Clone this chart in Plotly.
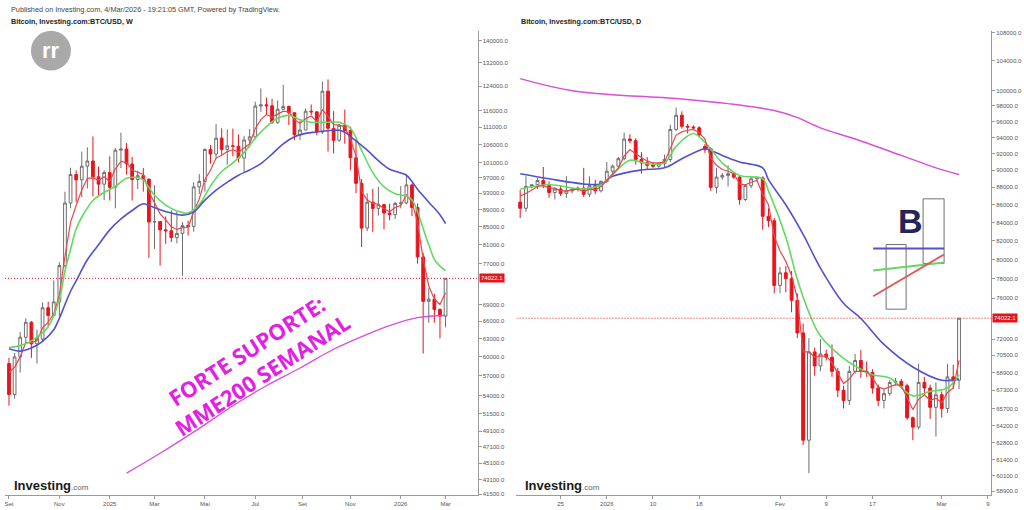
import math
import pandas as pd
import plotly.graph_objects as go

W, H = 1024, 510
PRICE = 74022.1

# ---------------- weekly BTC/USD (left panel) ----------------
w_dates = pd.date_range("2024-09-01", periods=79, freq="7D")
w_open = [58900, 54200, 59950, 63200, 65800, 62100, 62900, 68400, 67000, 69500,
          76600, 90600, 97800, 96400, 100000, 101400, 97200, 95300, 98300, 94500,
          104400, 104700, 100600, 96500, 97500, 96600, 86100, 86200, 84300, 84100,
          82600, 83500, 85300, 85100, 94600, 96000, 104600, 103300, 107800, 104600,
          105600, 105500, 102200, 107300, 108200, 117500, 117900, 117600, 112500, 116500,
          117400, 115400, 108800, 110200, 115900, 115700, 109600, 122300, 110700, 107200,
          111600, 110000, 102300, 95500, 84700, 90800, 89300, 90200, 88200, 87800,
          90500, 90600, 95100, 89500, 78400, 69600, 70000, 68100, 66900]
w_high = [59800, 60600, 64100, 66500, 66000, 64500, 69400, 69500, 73600, 77300,
          93400, 99600, 98900, 104000, 105200, 108300, 99900, 98900, 102700, 105000,
          109400, 106400, 102500, 98800, 99500, 96700, 95000, 86300, 87400, 88800,
          88500, 86100, 86400, 95800, 97900, 104900, 105800, 112000, 110700, 110400,
          110600, 108900, 108500, 110500, 118900, 123200, 120200, 119800, 119300, 124400,
          117600, 115600, 113000, 116800, 118000, 115800, 125500, 126200, 115900, 112000,
          116400, 111200, 107500, 96600, 93000, 94100, 94600, 90400, 90400, 90900,
          94800, 97900, 95500, 90500, 79300, 72100, 71000, 68300, 74022.1]
w_low = [52600, 53600, 57500, 62400, 59800, 58900, 62400, 65100, 66800, 66800,
         76200, 89300, 90800, 92000, 94200, 92200, 92500, 91300, 91200, 89300,
         99500, 97800, 91200, 94100, 93400, 78200, 80100, 76600, 81200, 81600,
         81300, 74500, 83000, 83900, 92800, 93400, 100700, 102000, 103100, 100400,
         102700, 101000, 98200, 105200, 107500, 115700, 114700, 112000, 112000, 116400,
         111700, 107300, 107300, 110200, 114700, 108600, 109100, 104000, 103500, 106800,
         106200, 98900, 93000, 80500, 84000, 83800, 87600, 84400, 86500, 86800,
         89300, 90300, 87500, 77000, 60500, 65700, 65700, 63000, 64900]
w_close = [54200, 59950, 63200, 65800, 62100, 62900, 68400, 67000, 69500, 76600,
           90600, 97800, 96400, 100000, 101400, 97200, 95300, 98300, 94500, 104400,
           104700, 100600, 96500, 97500, 96600, 86100, 86200, 84300, 84100, 82600,
           83500, 85300, 85100, 94600, 96000, 104600, 103300, 107800, 104600, 105600,
           105500, 102200, 107300, 108200, 117500, 117900, 117600, 112500, 116500, 117400,
           115400, 108800, 110200, 115900, 115700, 109600, 122300, 110700, 107200, 111600,
           110000, 102300, 95500, 84700, 90800, 89300, 90200, 88200, 87800, 90500,
           90600, 95100, 89500, 78400, 69600, 70000, 68100, 66900, 74022.1]
# short moving average (red), read per week
w_ma_red = [57500, 58300, 60000, 62300, 62300, 62600, 64800, 65800, 67300, 70800,
            78500, 86000, 90000, 93800, 96800, 96900, 96300, 97200, 96000, 99300,
            101300, 101000, 99000, 98500, 97800, 93400, 90500, 88000, 86600, 85000,
            84400, 84800, 84900, 88500, 91600, 96500, 98900, 102200, 103000, 104000,
            104500, 103800, 105000, 106200, 110600, 113300, 114900, 114100, 115000, 115900,
            115700, 113300, 112200, 113600, 114400, 112700, 116300, 114300, 111800, 111700,
            111100, 107500, 102800, 93500, 91300, 90500, 90300, 89200, 88500, 89500,
            90000, 92600, 90800, 86000, 78000, 72500, 70000, 69000, 71200]
# medium MA (green): week index -> value
w_ma_green_i = [0, 2, 4, 7, 9, 10, 11, 12, 13, 15, 17, 19, 21, 23, 24, 25, 26, 28, 30, 32,
                34, 36, 38, 40, 42, 44, 46, 48, 50, 52, 54, 57, 59, 61, 63, 65, 67, 69, 71, 72,
                73, 74, 75, 76, 77, 78]
w_ma_green = [61500, 61800, 62600, 65000, 70000, 75500, 80000, 84500, 87200, 91200,
              93200, 94700, 96800, 97000, 96400, 94500, 92500, 90100, 88700, 88200,
              90200, 94800, 98600, 100900, 103700, 107800, 111200, 113700, 114600, 113300,
              112500, 112500, 112500, 110700, 104300, 98300, 94600, 92900, 92300, 91400,
              88500, 84600, 81000, 77900, 76500, 75600]
# long MA (blue)
w_ma_blue_i = [0, 2, 4, 6, 8, 9, 10, 11, 12, 14, 16, 18, 20, 22, 24, 25, 27, 29, 31, 33,
               35, 37, 39, 41, 43, 45, 47, 49, 51, 53, 55, 57, 59, 60, 62, 64, 66, 68, 70, 71,
               72, 73, 75, 77, 78]
w_ma_blue = [61300, 60900, 61400, 62500, 64500, 66500, 69000, 71500, 73500, 77800,
             81000, 84300, 86800, 88800, 90400, 90000, 89000, 88200, 87700, 88400,
             91300, 93800, 95800, 97600, 99000, 100700, 103300, 106200, 108200, 109200,
             109600, 110000, 110100, 109500, 107000, 104400, 101500, 99200, 98200, 97600,
             96000, 94000, 90800, 87800, 85700]
# MME200 weekly (magenta)
w_ma200_i = [21, 27, 34, 40, 46, 52, 58, 63, 68, 73, 78]
w_ma200 = [43900, 46300, 49500, 52600, 55500, 58200, 61200, 63300, 65200, 66600, 67000]

# ---------------- daily BTC/USD (right panel) ----------------
d_dates = pd.date_range("2025-12-18", periods=77, freq="D")
d_ohlc = [
    (86300, 87700, 84500, 85600), (85600, 89300, 85200, 88100), (88100, 88400, 87900, 88300),
    (88300, 89100, 87800, 88800), (88800, 90400, 87900, 88300), (88300, 88700, 86800, 87400),
    (87400, 88000, 86600, 87800), (87800, 88200, 87000, 87300), (87300, 89300, 86800, 87600),
    (87600, 88000, 87300, 87800), (87800, 88100, 87500, 87900), (87900, 90300, 86900, 87200),
    (87200, 89300, 86900, 88200), (88200, 88900, 87200, 87600), (87600, 88800, 87400, 88700),
    (88700, 91000, 88500, 89900), (89900, 90700, 89500, 90500), (90500, 91600, 90200, 91400),
    (91400, 94600, 91200, 93800), (93800, 94400, 93300, 93600), (93600, 93900, 90700, 91300),
    (91300, 92200, 89600, 90900), (90900, 91600, 90100, 90600), (90600, 90900, 90300, 90500),
    (90500, 91000, 90300, 90800), (90800, 91900, 90300, 91300), (91300, 95600, 91000, 95000),
    (95000, 97800, 94800, 96800), (96800, 97300, 95100, 95400), (95400, 95700, 94500, 95300),
    (95300, 95500, 95000, 95200), (95200, 95400, 94000, 94300), (92900, 93200, 92100, 92500),
    (92600, 92800, 87600, 88000), (88000, 90300, 87300, 89200), (89200, 89700, 88900, 89400),
    (89400, 90600, 88100, 89600), (89600, 89800, 89000, 89200), (89200, 89400, 86000, 86600),
    (86600, 88400, 86400, 88200), (88200, 89300, 87900, 89000), (89000, 89300, 88700, 89100),
    (89100, 89300, 83200, 84700), (84700, 85600, 83500, 84200), (84200, 84500, 76500, 77300),
    (77300, 79200, 76500, 78600), (78600, 79300, 76600, 78000), (78000, 78800, 74600, 75800),
    (75800, 76500, 72100, 72600), (72600, 73500, 62600, 63000), (63000, 72100, 60300, 70800),
    (70800, 71200, 68600, 69500), (69500, 72000, 69000, 70600), (70600, 71000, 70000, 70300),
    (70300, 71500, 68500, 69000), (69000, 69300, 66700, 67300), (67300, 67700, 65700, 66400),
    (66400, 69500, 66000, 69000), (69000, 70600, 68800, 70000), (70000, 71000, 68400, 69000),
    (69000, 69900, 68500, 68900), (68900, 69200, 67000, 67500), (67500, 67800, 65900, 66400),
    (66400, 67400, 65700, 67000), (67000, 68200, 66800, 68000), (68000, 68400, 67700, 68100),
    (68100, 68300, 67500, 67700), (67700, 67900, 64700, 64900), (64900, 65000, 63000, 64100),
    (64100, 69700, 63900, 68000), (68000, 68500, 66900, 67500), (67500, 67800, 64800, 65800),
    (65800, 68000, 63300, 66900), (66900, 67200, 64900, 65700), (65700, 69700, 65300, 68500),
    (68500, 69600, 67400, 68200), (68200, 74022.1, 67400, 74022.1)]
d_open = [r[0] for r in d_ohlc]
d_high = [r[1] for r in d_ohlc]
d_low = [r[2] for r in d_ohlc]
d_close = [r[3] for r in d_ohlc]
d_ma_red = [87000, 87300, 87700, 88100, 88200, 87900, 87900, 87600, 87600, 87700,
            87800, 87500, 87800, 87700, 88100, 88800, 89500, 90300, 91700, 92500,
            92000, 91500, 91100, 90900, 90900, 91000, 92600, 94300, 94700, 94900,
            95000, 94600, 93800, 91500, 90600, 90100, 89900, 89600, 88400, 88300,
            88600, 88800, 87200, 86000, 82500, 80900, 79800, 78300, 76000, 70800,
            70800, 70300, 70400, 70400, 69800, 68800, 67900, 68300, 69000, 69000,
            69000, 68400, 67600, 67400, 67600, 67800, 67700, 66600, 65600, 66500,
            66900, 66400, 66600, 66200, 67100, 67500, 70000]
d_ma_green_i = [0, 5, 11, 14, 16, 19, 22, 25, 27, 30, 32, 35, 38, 42, 43, 46, 48, 50, 52, 56,
                58, 61, 64, 68, 71, 74, 76]
d_ma_green = [87800, 88300, 87800, 88300, 89500, 91200, 90800, 90900, 92900, 94500,
              93400, 90900, 89400, 89000, 87600, 82400, 77900, 74600, 72300, 70200,
              69500, 68700, 68400, 66800, 67200, 67500, 68700]
d_ma_blue_i = [0, 5, 11, 14, 16, 21, 25, 28, 31, 32, 35, 38, 42, 43, 46, 49, 52, 56, 59, 63,
               68, 73, 76]
d_ma_blue = [89600, 89000, 88400, 88400, 89300, 90050, 90300, 91400, 92400, 92600,
             91800, 91000, 90300, 88900, 86000, 82700, 79100, 75500, 74000, 71500,
             69400, 68200, 68300]
d_ma200_i = [0, 9, 28, 36, 44, 48, 52, 58, 66, 72, 76]
d_ma200 = [101600, 100000, 98900, 98300, 97400, 96500, 95200, 93800, 91800, 90300, 89500]

# axis tick labels (ticks hidden behind the price label are left out)
left_xt_vals = ["2024-09-01", "2024-11-03", "2025-01-05", "2025-03-02", "2025-05-04",
                "2025-07-06", "2025-09-03", "2025-11-02", "2026-01-04", "2026-03-01"]
left_xt_text = ["Set", "Nov", "2025", "Mar", "Mai", "Jul", "Set", "Nov", "2026", "Mar"]
right_xt_vals = ["2025-12-25", "2026-01-02", "2026-01-10", "2026-01-18", "2026-02-01",
                 "2026-02-09", "2026-02-17", "2026-03-01", "2026-03-09"]
right_xt_text = ["25", "2026", "10", "18", "Fev", "9", "17", "Mar", "9"]
left_yt = [140000, 132000, 124000, 116000, 111000, 106000, 101000, 97000, 93000, 89000,
           85000, 81000, 77000, 69000, 66000, 63000, 60000, 57000, 54000,
           51500, 49100, 47100, 45100, 43100, 41500]
right_yt = [108000, 104000, 100000, 98000, 96000, 94000, 92000, 90000, 88000, 86000,
            84000, 82000, 80000, 78000, 76000, 72000, 70500, 68900, 67300,
            65700, 64200, 62800, 61400, 60100, 58900]

# ---------------- layout helpers ----------------
def px(x):
    return x / W

def py(y):
    return 1 - y / H

L_XR = ["2024-08-27", "2026-04-10"]
R_XR = ["2025-12-17 08:40", "2026-03-09 13:00"]
L_YR = [math.log10(41387), math.log10(143784)]
R_YR = [math.log10(58592), math.log10(108230)]

RED = "#e8141c"
UPLINE = "#6e6e6e"
C_RED, C_GREEN, C_BLUE, C_MAG = "#e8474a", "#62d962", "#5252cc", "#d94fd9"
FONT = "Liberation Sans, Arial, sans-serif"

fig = go.Figure()

def candles(x, o, h, l, c, xa, ya):
    fig.add_trace(go.Candlestick(
        x=x, open=o, high=h, low=l, close=c, xaxis=xa, yaxis=ya,
        increasing=dict(line=dict(color=UPLINE, width=1), fillcolor="#ffffff"),
        decreasing=dict(line=dict(color=RED, width=1), fillcolor=RED),
        whiskerwidth=0, showlegend=False, hoverinfo="skip"))

def line(x, y, color, width, xa, ya, shape="linear", dash=None):
    fig.add_trace(go.Scatter(x=x, y=y, mode="lines", xaxis=xa, yaxis=ya,
                             line=dict(color=color, width=width, shape=shape, dash=dash),
                             showlegend=False, hoverinfo="skip"))

# left panel
line(list(w_dates), w_ma_red, C_RED, 1.2, "x", "y")
line([w_dates[i] for i in w_ma_green_i], w_ma_green, C_GREEN, 1.6, "x", "y", "spline")
line([w_dates[i] for i in w_ma_blue_i], w_ma_blue, C_BLUE, 1.6, "x", "y", "spline")
line([w_dates[i] for i in w_ma200_i], w_ma200, C_MAG, 1.3, "x", "y", "spline")
candles(w_dates, w_open, w_high, w_low, w_close, "x", "y")
line(L_XR, [PRICE, PRICE], RED, 1, "x", "y", dash="1px,2px")

# right panel
line([d_dates[i] for i in d_ma200_i], d_ma200, C_MAG, 1.5, "x2", "y2", "spline")
line([d_dates[i] for i in d_ma_blue_i], d_ma_blue, C_BLUE, 1.6, "x2", "y2", "spline")
line([d_dates[i] for i in d_ma_green_i], d_ma_green, C_GREEN, 1.6, "x2", "y2", "spline")
line(list(d_dates), d_ma_red, C_RED, 1.2, "x2", "y2")
candles(d_dates, d_open, d_high, d_low, d_close, "x2", "y2")
line(R_XR, [PRICE, PRICE], RED, 1, "x2", "y2", dash="1px,2px")

axis_common = dict(showgrid=False, zeroline=False, showline=True, linecolor="#9a9a9a",
                   linewidth=1, ticks="outside", ticklen=3, tickcolor="#9a9a9a",
                   tickfont=dict(family=FONT, size=6, color="#555"))

fig.update_layout(
    width=W, height=H, autosize=False,
    margin=dict(l=0, r=0, t=0, b=0),
    paper_bgcolor="white", plot_bgcolor="white",
    boxgap=0.3,
    xaxis=dict(domain=[px(4), px(477)], range=L_XR, type="date", anchor="y",
               tickvals=left_xt_vals, ticktext=left_xt_text,
               rangeslider=dict(visible=False), **axis_common),
    yaxis=dict(domain=[py(497), py(30)], range=L_YR, type="log", anchor="x", side="right",
               tickvals=left_yt, ticktext=[f"{v:.1f}" for v in left_yt], **axis_common),
    xaxis2=dict(domain=[px(516), px(991)], range=R_XR, type="date", anchor="y2",
                tickvals=right_xt_vals, ticktext=right_xt_text,
                rangeslider=dict(visible=False), **axis_common),
    yaxis2=dict(domain=[py(497), py(30)], range=R_YR, type="log", anchor="x2", side="right",
                tickvals=right_yt, ticktext=[f"{v:.1f}" for v in right_yt], **axis_common),
)

ann = []
def text(x, y, t, size, color="#333", bold=False, anchor="left", family=FONT, angle=0):
    ann.append(dict(xref="paper", yref="paper", x=px(x), y=py(y), text=f"<b>{t}</b>" if bold else t,
                    showarrow=False, xanchor=anchor, yanchor="middle", textangle=angle,
                    font=dict(family=family, size=size, color=color)))

text(8, 9, "Published on Investing.com, 4/Mar/2026 - 19:21:05 GMT, Powered by TradingView.", 7.3, "#444")
text(8, 21, "Bitcoin, Investing.com:BTC/USD, W", 7.2, "#222", bold=True)
text(519, 21, "Bitcoin, Investing.com:BTC/USD, D", 7.2, "#222", bold=True)
for xx in (11, 523):
    ann.append(dict(xref="paper", yref="paper", x=px(xx), y=py(487), showarrow=False,
                    xanchor="left", yanchor="middle",
                    text="<b>Investing</b><span style='font-size:8px;color:#666'>.com</span>",
                    font=dict(family=FONT, size=13, color="#1a1a1a")))
text(50, 50, "rr", 22, "white", bold=True, anchor="center")
text(254, 364, "FORTE SUPORTE:<br>MME200 SEMANAL", 22, "#e21fe2", bold=True, anchor="center",
     family="Open Sans, sans-serif", angle=-33)
text(910, 221, "B", 34, "#25255a", bold=True, anchor="center")
# price labels
for xr, yr, xx in (("paper", "y", 478), ("paper", "y2", 992)):
    ann.append(dict(xref=xr, yref=yr, x=px(xx), y=math.log10(PRICE), text="74022.1",
                    showarrow=False, xanchor="left", yanchor="middle", bgcolor=RED,
                    borderpad=1, font=dict(family=FONT, size=6, color="white")))
fig.update_layout(annotations=ann)

shapes = [
    dict(type="circle", xref="paper", yref="paper", x0=px(30), x1=px(70), y0=py(70), y1=py(30),
         fillcolor="#a9a9a9", line=dict(width=0), layer="below"),
    dict(type="rect", xref="paper", yref="paper", x0=px(886), x1=px(906), y0=py(310), y1=py(245),
         line=dict(color="#707070", width=1)),
    dict(type="rect", xref="paper", yref="paper", x0=px(923), x1=px(944), y0=py(264), y1=py(199),
         line=dict(color="#707070", width=1)),
    dict(type="line", xref="paper", yref="paper", x0=px(873), x1=px(944), y0=py(249), y1=py(249),
         line=dict(color=C_BLUE, width=2)),
    dict(type="line", xref="paper", yref="paper", x0=px(873), x1=px(944), y0=py(271), y1=py(263),
         line=dict(color=C_GREEN, width=2)),
    dict(type="line", xref="paper", yref="paper", x0=px(873), x1=px(944), y0=py(297), y1=py(255),
         line=dict(color="#e05a5a", width=2)),
]
fig.update_layout(shapes=shapes)

fig.write_html("out.html")
